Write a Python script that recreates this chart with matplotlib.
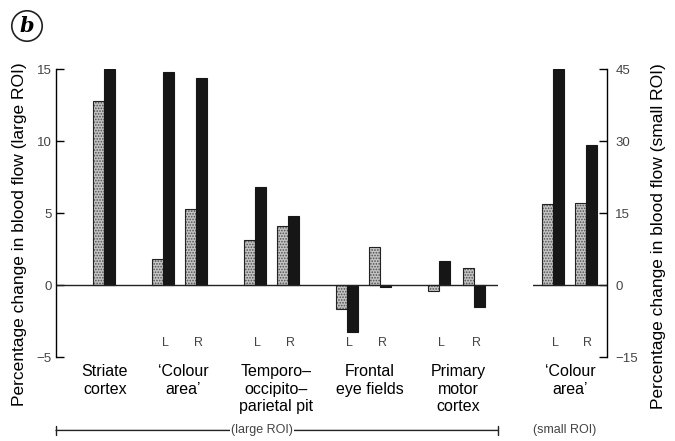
import matplotlib
matplotlib.use("Agg")
import matplotlib.pyplot as plt
from matplotlib.transforms import blended_transform_factory

plt.rcParams["font.family"] = ["Liberation Sans", "DejaVu Sans"]
plt.rcParams["hatch.linewidth"] = 0.8

# values (% change in blood flow)
large_pairs = ["Striate", "Colour L", "Colour R", "TOP L", "TOP R",
               "FEF L", "FEF R", "M1 L", "M1 R"]
large_dotted = [12.8, 1.8, 5.3, 3.1, 4.1, -1.7, 2.65, -0.4, 1.15]
large_black = [15.0, 14.8, 14.35, 6.8, 4.8, -3.25, -0.15, 1.7, -1.5]

small_pairs = ["Colour L", "Colour R"]
small_dotted = [16.9, 17.0]
small_black = [45.0, 29.2]

group_names = ["Striate\ncortex", "\u2018Colour\narea\u2019",
               "Temporo\u2013\noccipito\u2013\nparietal pit",
               "Frontal\neye fields", "Primary\nmotor\ncortex"]
small_group = "\u2018Colour\narea\u2019"
side_labels = ["L", "R"]

# layout (x in pixels inside each axes)
pair_x = [48, 107, 140, 199, 232, 291, 324, 383, 418]
group_x = [49, 127, 220, 314, 402]
small_pair_x = [20, 53]
small_group_x = 37
bw = 11

fig = plt.figure(figsize=(6.75, 4.41), dpi=100)
ax = fig.add_axes([56 / 675, 84 / 441, 442 / 675, 288 / 441])
ax2 = fig.add_axes([533 / 675, 84 / 441, 74 / 675, 288 / 441])


def draw_bars(a, xs, dotted, black):
    left = [x - bw / 2 for x in xs]
    right = [x + bw / 2 for x in xs]
    a.bar(left, dotted, width=bw, color="#c4c4c4", edgecolor="#505050",
          hatch="......", linewidth=0)
    a.bar(left, dotted, width=bw, fill=False, edgecolor="#222", linewidth=0.8)
    a.bar(right, black, width=bw, color="#161616", edgecolor="#161616",
          linewidth=0.8)


draw_bars(ax, pair_x, large_dotted, large_black)
draw_bars(ax2, small_pair_x, small_dotted, small_black)

# left panel axes
ax.set_xlim(0, 442)
ax.set_ylim(-5, 15)
for s in ["top", "right", "bottom"]:
    ax.spines[s].set_visible(False)
ax.spines["left"].set_linewidth(1.0)
ax.set_xticks([])
ax.set_yticks([-5, 0, 5, 10, 15])
ax.tick_params(axis="y", direction="in", length=6, width=1.0,
               labelsize=9.5, labelcolor="#444", pad=3)
ax.axhline(0, color="#222", linewidth=1.0)

# right panel axes
ax2.set_xlim(0, 74)
ax2.set_ylim(-15, 45)
for s in ["top", "left", "bottom"]:
    ax2.spines[s].set_visible(False)
ax2.spines["right"].set_linewidth(1.0)
ax2.set_xticks([])
ax2.yaxis.tick_right()
ax2.set_yticks([-15, 0, 15, 30, 45])
ax2.tick_params(axis="y", direction="in", length=6, width=1.0,
                labelsize=9.5, labelcolor="#444", pad=6)
ax2.axhline(0, color="#222", linewidth=1.0)

# L / R labels
for i in range(1, len(pair_x)):
    ax.text(pair_x[i] + 2, -4.0, side_labels[(i - 1) % 2], ha="center",
            va="center", fontsize=9, color="#444")
for i, x0 in enumerate(small_pair_x):
    ax2.text(x0 + 2, -12.0, side_labels[i], ha="center", va="center",
             fontsize=9, color="#444")

# group names
tr = blended_transform_factory(ax.transData, ax.transAxes)
for x0, name in zip(group_x, group_names):
    ax.text(x0, -0.025, name, transform=tr, ha="center", va="top",
            fontsize=11.5, linespacing=1.2, clip_on=False)
tr2 = blended_transform_factory(ax2.transData, ax2.transAxes)
ax2.text(small_group_x, -0.025, small_group, transform=tr2, ha="center",
         va="top", fontsize=11.5, linespacing=1.2, clip_on=False)

# ROI brackets
ax.annotate("", xy=(0, -0.255), xytext=(1, -0.255), xycoords="axes fraction",
            arrowprops=dict(arrowstyle="|-|", mutation_scale=3, lw=1.0,
                            color="#222", shrinkA=0, shrinkB=0),
            annotation_clip=False)
ax.text(0.466, -0.255, "(large ROI)", transform=ax.transAxes, ha="center",
        va="center", fontsize=9, color="#444",
        bbox=dict(facecolor="white", edgecolor="none", pad=1))
ax2.text(0.43, -0.255, "(small ROI)", transform=ax2.transAxes, ha="center",
         va="center", fontsize=9, color="#444")

# axis titles
fig.text(20 / 675, 1 - 234 / 441,
         "Percentage change in blood flow (large ROI)", rotation=90,
         ha="center", va="center", fontsize=12.5)
fig.text(658 / 675, 1 - 236 / 441,
         "Percentage change in blood flow (small ROI)", rotation=90,
         ha="center", va="center", fontsize=12.5)

# panel letter
fig.text(27 / 675, 1 - 26 / 441, "b", ha="center", va="center",
         fontsize=15, family="DejaVu Serif", style="italic", weight="bold",
         bbox=dict(boxstyle="circle,pad=0.25", facecolor="none",
                   edgecolor="#222", linewidth=1.2))

fig.savefig("out.png", dpi=100)
